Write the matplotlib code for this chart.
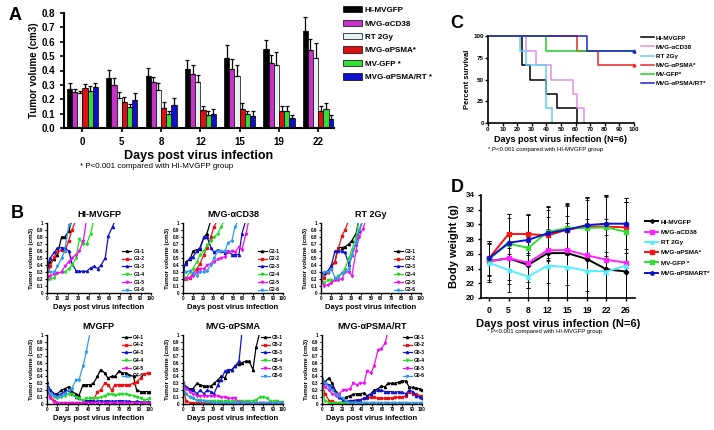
import matplotlib
matplotlib.use("Agg")
import matplotlib.pyplot as plt
import numpy as np

plt.rcParams.update({
    "font.family": ["Liberation Sans", "DejaVu Sans"],
    "font.weight": "bold",
    "axes.labelweight": "bold",
    "axes.titleweight": "bold",
    "axes.spines.top": False,
    "axes.spines.right": False,
})

W, H = 714, 430

# ---------------- panel A data ----------------
a_days = ["0", "5", "8", "12", "15", "19", "22"]
a_labels = ["HI-MVGFP", "MVG-αCD38", "RT 2Gy", "MVG-αPSMA*", "MV-GFP *", "MVG-αPSMA/RT *"]
a_colors = ["black", "#c832c8", "#e6f2f2", "#dd1111", "#33dd33", "#1010cc"]
a_hi = [0.27, 0.35, 0.36, 0.41, 0.49, 0.55, 0.675]
a_cd38 = [0.25, 0.30, 0.32, 0.375, 0.41, 0.45, 0.54]
a_rt = [0.245, 0.21, 0.265, 0.32, 0.365, 0.435, 0.49]
a_psma = [0.28, 0.18, 0.14, 0.125, 0.135, 0.115, 0.115]
a_gfp = [0.26, 0.145, 0.10, 0.09, 0.095, 0.115, 0.135]
a_psmart = [0.285, 0.195, 0.16, 0.10, 0.085, 0.07, 0.06]
a_hi_err = [0.045, 0.055, 0.06, 0.065, 0.09, 0.065, 0.095]
a_cd38_err = [0.02, 0.05, 0.035, 0.06, 0.07, 0.06, 0.08]
a_rt_err = [0.01, 0.04, 0.045, 0.05, 0.075, 0.095, 0.10]
a_psma_err = [0.025, 0.035, 0.04, 0.03, 0.04, 0.04, 0.04]
a_gfp_err = [0.03, 0.02, 0.02, 0.025, 0.025, 0.04, 0.04]
a_psmart_err = [0.03, 0.05, 0.05, 0.035, 0.03, 0.02, 0.03]

# ---------------- panel C data (Kaplan-Meier steps) ----------------
c_labels = ["HI-MVGFP", "MVG-αCD38", "RT 2Gy", "MVG-αPSMA*", "MV-GFP*", "MVG-αPSMA/RT*"]
c_colors = ["black", "#e08ee8", "#66ccee", "#ee2222", "#22cc22", "#2222cc"]
c_hi_t = [0, 23, 29, 40, 47, 61]
c_hi_s = [100, 66.7, 50, 33.3, 16.7, 0]
c_cd38_t = [0, 26, 33, 43, 58, 61, 66]
c_cd38_s = [100, 83.3, 66.7, 50, 33.3, 16.7, 0]
c_rt_t = [0, 22, 26, 40, 44]
c_rt_s = [100, 83.3, 66.7, 16.7, 0]
c_psma_t = [0, 61, 75, 100]
c_psma_s = [100, 83.3, 66.7, 66.7]
c_gfp_t = [0, 40, 100]
c_gfp_s = [100, 83.3, 83.3]
c_psmart_t = [0, 68, 100]
c_psmart_s = [100, 83.3, 83.3]

# ---------------- panel D data ----------------
d_days = ["0", "5", "8", "12", "15", "19", "22", "26"]
d_labels = ["HI-MVGFP", "MVG-αCD38", "RT 2Gy", "MVG-αPSMA*", "MV-GFP *", "MVG-αPSMART*"]
d_colors = ["black", "#ff22ff", "#55eeff", "#ff1111", "#33dd33", "#1111cc"]
d_markers = ["P", "s", "^", "s", "s", "o"]
d_hi = [25.0, 25.4, 24.5, 26.1, 26.1, 25.3, 23.9, 23.6]
d_cd38 = [25.0, 25.4, 24.8, 26.5, 26.5, 25.8, 25.2, 24.8]
d_rt = [24.8, 23.8, 22.9, 24.4, 24.2, 23.7, 23.6, 24.4]
d_psma = [25.4, 28.7, 28.7, 28.5, 29.3, 29.7, 29.7, 29.6]
d_gfp = [25.3, 27.4, 26.8, 29.0, 29.5, 29.5, 29.6, 29.0]
d_psmart = [25.4, 27.5, 27.9, 28.8, 29.3, 29.9, 30.1, 30.1]
d_hi_err = [2.8, 3.0, 3.1, 6.3, 6.6, 8.3, 10.0, 10.0]
d_cd38_err = [2.5, 3.5, 3.5, 4.5, 4.7, 4.9, 5.6, 5.0]
d_rt_err = [2.6, 3.0, 3.0, 5.0, 6.0, 6.0, 5.0, 5.0]
d_psma_err = [2.3, 2.7, 2.6, 3.5, 3.2, 3.6, 4.0, 3.5]
d_gfp_err = [2.2, 3.5, 4.6, 3.5, 3.4, 4.2, 4.4, 4.0]
d_psmart_err = [2.4, 3.9, 3.4, 3.6, 3.5, 3.8, 3.9, 3.5]

# ---------------- panel B data (individual tumours) ----------------
b_days = [0, 3, 7, 10, 14, 17, 21, 24, 28, 31, 35, 38, 42, 45, 49, 52, 56, 59,
          63, 66, 70, 73, 77, 80, 84, 87, 91, 94, 98, 100]
b_colors = ["black", "#ee1111", "#1111cc", "#22dd22", "#ee11ee", "#3399ee"]
b_markers = ["^", "s", "^", "v", "v", "v"]

g1_1 = [0.33, 0.45, 0.48, 0.55, 0.8, 0.8, 0.88, 1.05]
g1_2 = [0.24, 0.38, 0.52, 0.58, 0.62, 0.6, 0.75, 0.9, 1.05]
g1_3 = [0.38, 0.5, 0.58, 0.64, 0.65, 0.64, 0.6, 0.42, 0.32, 0.31, 0.31, 0.31,
        0.36, 0.38, 0.35, 0.4, 0.5, 0.82, 0.95, 1.05]
g1_4 = [0.2, 0.2, 0.22, 0.28, 0.3, 0.3, 0.35, 0.4, 0.5, 0.77, 0.7, 0.7, 0.85, 1.05]
g1_5 = [0.18, 0.25, 0.27, 0.28, 0.3, 0.38, 0.45, 0.5, 0.55, 0.6, 0.75, 1.05]
g1_6 = [0.35, 0.3, 0.3, 0.38, 0.5, 0.6, 0.97]

g2_1 = [0.3, 0.45, 0.48, 0.6, 0.62, 0.63, 0.8, 0.85, 1.05]
g2_2 = [0.2, 0.2, 0.22, 0.28, 0.35, 0.42, 0.55, 0.65, 0.8, 0.95, 1.05]
g2_3 = [0.35, 0.42, 0.5, 0.52, 0.6, 0.65, 0.8, 0.8, 0.65, 0.58, 0.62, 0.6, 0.57,
        0.6, 0.55, 0.55, 0.55, 0.85, 1.05]
g2_4 = [0.28, 0.2, 0.3, 0.35, 0.45, 0.55, 0.6, 0.68, 0.75, 0.8, 0.85, 0.95, 1.05]
g2_5 = [0.2, 0.22, 0.22, 0.25, 0.3, 0.35, 0.35, 0.4, 0.42, 0.45, 0.48, 0.5, 0.52,
        0.58, 0.6, 0.58, 0.66, 0.62, 0.85, 1.05]
g2_6 = [0.3, 0.3, 0.32, 0.28, 0.25, 0.3, 0.3, 0.32, 0.4, 0.5, 0.6, 0.6, 0.6, 0.72,
        0.75, 0.95, 1.05]

g3_1 = [0.28, 0.28, 0.3, 0.38, 0.45, 0.65, 0.65, 0.66, 0.7, 0.75, 0.85, 1.05]
g3_2 = [0.25, 0.22, 0.3, 0.35, 0.45, 0.62, 0.82, 0.9, 1.05]
g3_3 = [0.28, 0.28, 0.32, 0.38, 0.6, 0.6, 0.6, 0.58, 0.4, 0.55, 0.7, 0.88, 1.05]
g3_4 = [0.22, 0.15, 0.18, 0.18, 0.18, 0.25, 0.28, 0.35, 0.5, 0.62, 0.8, 1.05]
g3_5 = [0.2, 0.1, 0.12, 0.15, 0.18, 0.18, 0.2, 0.3, 0.3, 0.25, 0.6, 0.8, 0.92, 1.05]
g3_6 = [0.22, 0.3, 0.3, 0.35, 0.22, 0.22, 0.28, 0.3, 0.35, 0.55, 0.72, 0.9, 1.05]

g4_1 = [0.3, 0.2, 0.15, 0.15, 0.2, 0.22, 0.25, 0.18, 0.15, 0.12, 0.28, 0.28, 0.28,
        0.3, 0.4, 0.5, 0.45, 0.38, 0.4, 0.4, 0.48, 0.45, 0.45, 0.42, 0.4, 0.2, 0.18,
        0.18, 0.18, 0.18]
g4_2 = [0.25, 0.1, 0.05, 0.02, 0.02, 0.02, 0.02, 0.02, 0.02, 0.02, 0.02, 0.03, 0.04,
        0.05, 0.18, 0.2, 0.3, 0.28, 0.2, 0.28, 0.28, 0.28, 0.28, 0.28, 0.3, 0.32, 0.38,
        0.43, 0.45, 0.45]
g4_3 = [0.32, 0.2, 0.15, 0.12, 0.15, 0.18, 0.2, 0.15, 0.1, 0.08, 0.05, 0.05, 0.05,
        0.04, 0.04, 0.05, 0.04, 0.05, 0.04, 0.04, 0.05, 0.05, 0.04, 0.04, 0.03, 0.04,
        0.03, 0.03, 0.03, 0.03]
g4_4 = [0.2, 0.15, 0.1, 0.08, 0.1, 0.12, 0.15, 0.15, 0.1, 0.08, 0.06, 0.08, 0.08,
        0.08, 0.08, 0.1, 0.12, 0.14, 0.14, 0.13, 0.14, 0.15, 0.14, 0.13, 0.12, 0.1,
        0.08, 0.06, 0.07, 0.08]
g4_5 = [0.22, 0.08, 0.03, 0.02, 0.02, 0.02, 0.02, 0.02, 0.02, 0.02, 0.02, 0.02, 0.02,
        0.02, 0.02, 0.02, 0.02, 0.02, 0.02, 0.02, 0.02, 0.02, 0.02, 0.02, 0.02, 0.02,
        0.02, 0.02, 0.02, 0.02]
g4_6 = [0.28, 0.15, 0.12, 0.1, 0.12, 0.15, 0.2, 0.22, 0.35, 0.35, 0.55, 0.75, 1.05]

g5_1 = [0.3, 0.25, 0.22, 0.22, 0.3, 0.28, 0.26, 0.26, 0.26, 0.3, 0.35, 0.4, 0.38,
        0.48, 0.5, 0.55, 0.58, 0.6, 0.62, 0.62, 0.5, 0.82, 1.05]
g5_2 = [0.25, 0.05, 0.02, 0.02, 0.02, 0.02, 0.02, 0.02, 0.02, 0.02, 0.02, 0.02, 0.02,
        0.02, 0.02, 0.02, 0.02, 0.02, 0.02, 0.02, 0.02, 0.02, 0.02, 0.02, 0.02, 0.02,
        0.02, 0.02, 0.02, 0.02]
g5_3 = [0.32, 0.25, 0.2, 0.2, 0.15, 0.2, 0.15, 0.2, 0.18, 0.15, 0.28, 0.35, 0.48,
        0.5, 0.5, 0.55, 0.62, 1.05]
g5_4 = [0.2, 0.15, 0.1, 0.08, 0.06, 0.06, 0.05, 0.05, 0.05, 0.04, 0.04, 0.04, 0.04,
        0.04, 0.04, 0.04, 0.04, 0.04, 0.04, 0.04, 0.05, 0.06, 0.1, 0.1, 0.08, 0.05,
        0.04, 0.04, 0.03, 0.03]
g5_5 = [0.3, 0.22, 0.18, 0.15, 0.12, 0.12, 0.12, 0.12, 0.12, 0.12, 0.12, 0.1, 0.1,
        0.08, 0.08, 0.08, 0.03, 0.02, 0.02, 0.02, 0.02, 0.02, 0.02, 0.02, 0.02, 0.02,
        0.02, 0.02, 0.02, 0.02]
g5_6 = [0.28, 0.15, 0.1, 0.08, 0.05, 0.05, 0.04, 0.03, 0.03, 0.02, 0.02, 0.02, 0.02,
        0.02, 0.02, 0.02, 0.02, 0.02, 0.02, 0.02, 0.02, 0.02, 0.02, 0.02, 0.02, 0.02,
        0.02, 0.02, 0.02, 0.02]

g6_1 = [0.35, 0.32, 0.38, 0.3, 0.18, 0.1, 0.08, 0.1, 0.12, 0.14, 0.15, 0.15, 0.16,
        0.12, 0.15, 0.2, 0.22, 0.26, 0.25, 0.3, 0.3, 0.3, 0.32, 0.34, 0.33, 0.25, 0.24,
        0.23, 0.22, 0.21]
g6_2 = [0.3, 0.15, 0.05, 0.04, 0.02, 0.02, 0.03, 0.03, 0.04, 0.05, 0.05, 0.06, 0.08,
        0.08, 0.1, 0.1, 0.08, 0.08, 0.08, 0.08, 0.09, 0.1, 0.1, 0.1, 0.12, 0.18, 0.15,
        0.15, 0.12, 0.12]
g6_3 = [0.38, 0.3, 0.28, 0.25, 0.15, 0.1, 0.05, 0.04, 0.05, 0.05, 0.06, 0.06, 0.08,
        0.1, 0.15, 0.17, 0.2, 0.2, 0.18, 0.18, 0.18, 0.17, 0.18, 0.17, 0.15, 0.2, 0.18,
        0.12, 0.1, 0.08]
g6_4 = [0.22, 0.05, 0.02, 0.01, 0.02, 0.02, 0.02, 0.02, 0.02, 0.02, 0.02, 0.02, 0.02,
        0.02, 0.02, 0.02, 0.02, 0.02, 0.02, 0.02, 0.02, 0.02, 0.02, 0.02, 0.02]
g6_5 = [0.28, 0.25, 0.2, 0.15, 0.12, 0.15, 0.2, 0.2, 0.22, 0.3, 0.28, 0.3, 0.3, 0.48,
        0.45, 0.55, 0.78, 0.8, 0.88, 1.05]
g6_6 = [0.35, 0.3, 0.25, 0.2, 0.15, 0.12, 0.08, 0.04, 0.02, 0.02, 0.02, 0.02, 0.02,
        0.02, 0.02, 0.02, 0.02, 0.02, 0.02, 0.02, 0.02, 0.02, 0.02, 0.02, 0.02, 0.02,
        0.02, 0.02, 0.02, 0.02]

b_yticks = [0, 0.1, 0.2, 0.3, 0.4, 0.5, 0.6, 0.7, 0.8, 0.9, 1]
b_yticklabels = ["0", "0.1", "0.2", "0.3", "0.4", "0.5", "0.6", "0.7", "0.8", "0.9", "1"]


fig = plt.figure(figsize=(W / 100, H / 100), dpi=100)


def add_ax(l, t, r, b):
    """Axes from pixel edges (y measured from the top)."""
    return fig.add_axes([l / W, 1 - b / H, (r - l) / W, (b - t) / H])


def ftext(x, y, s, **kw):
    fig.text(x / W, 1 - y / H, s, **kw)


# ---------------- A ----------------
ax = add_ax(64, 13, 334, 128)
xa = np.arange(len(a_days))
bw = 0.132
a_series = [a_hi, a_cd38, a_rt, a_psma, a_gfp, a_psmart]
a_errs = [a_hi_err, a_cd38_err, a_rt_err, a_psma_err, a_gfp_err, a_psmart_err]
a_handles = []
for i, (vals, err, col) in enumerate(zip(a_series, a_errs, a_colors)):
    b = ax.bar(xa + (i - 2.5) * bw, vals, bw, color=col, edgecolor="black", lw=0.5,
               yerr=[np.zeros(len(err)), err],
               error_kw=dict(ecolor="black", elinewidth=0.9, capsize=1.4, capthick=0.9))
    a_handles.append(b)
ax.set_xlim(-0.47, 6.4)
ax.set_ylim(0, 0.8)
ax.set_yticks(np.arange(0, 0.81, 0.1))
ax.set_yticklabels([f"{v:.1f}" for v in np.arange(0, 0.81, 0.1)])
ax.set_xticks(xa)
ax.set_xticklabels(a_days)
ax.tick_params(labelsize=7, width=1.2, length=3)
for s in ["left", "bottom"]:
    ax.spines[s].set_linewidth(1.5)
ax.set_ylabel("Tumor volume (cm3)", fontsize=7, labelpad=2)
ax.set_xlabel("Days post virus infection", fontsize=9, labelpad=2)
ftext(9, 16, "A", fontsize=13, va="center")
ftext(80, 167, "* P<0.001 compared with HI-MVGFP group", fontsize=5.8,
      fontweight="normal", va="center")
fig.legend(a_handles, a_labels, loc="upper left", bbox_to_anchor=(339 / W, 1 - 2 / H),
           fontsize=5.8, frameon=False, handlelength=2.4, handleheight=0.85,
           labelspacing=0.68, borderpad=0, handletextpad=0.3)

# ---------------- C ----------------
ax = add_ax(488, 36, 634, 123)
c_t = [c_hi_t, c_cd38_t, c_rt_t, c_psma_t, c_gfp_t, c_psmart_t]
c_s = [c_hi_s, c_cd38_s, c_rt_s, c_psma_s, c_gfp_s, c_psmart_s]
c_handles = []
for t, s, col in zip(c_t, c_s, c_colors):
    ln, = ax.step(t, s, where="post", color=col, lw=1.1, clip_on=False)
    c_handles.append(ln)
for t, s, col in zip(c_t[3:], c_s[3:], c_colors[3:]):
    ax.plot(t[-1], s[-1], marker="^", ms=2, color=col, clip_on=False)
ax.set_xlim(0, 100)
ax.set_ylim(0, 100)
ax.set_xticks(np.arange(0, 101, 10))
ax.set_yticks([0, 25, 50, 75, 100])
ax.tick_params(labelsize=4.5, width=1.0, length=2, pad=1)
for s in ["left", "bottom"]:
    ax.spines[s].set_linewidth(1.2)
ax.set_ylabel("Percent survival", fontsize=5.5, labelpad=2)
ax.set_xlabel("Days post virus infection (N=6)", fontsize=6.5, labelpad=2)
ftext(450, 24, "C", fontsize=13, va="center")
ftext(488, 150, "* P<0.001 compared with HI-MVGFP group", fontsize=4.3,
      fontweight="normal", va="center")
fig.legend(c_handles, c_labels, loc="upper left", bbox_to_anchor=(638 / W, 1 - 32 / H),
           fontsize=4.5, frameon=False, handlelength=2.0, labelspacing=0.6,
           borderpad=0, handletextpad=0.4)

# ---------------- D ----------------
ax = add_ax(481, 195, 635, 298)
xd = np.arange(len(d_days))
d_series = [d_hi, d_cd38, d_rt, d_psma, d_gfp, d_psmart]
d_errs = [d_hi_err, d_cd38_err, d_rt_err, d_psma_err, d_gfp_err, d_psmart_err]
for vals, err in zip(d_series, d_errs):
    ax.errorbar(xd, vals, yerr=err, fmt="none", ecolor="black", elinewidth=0.6,
                capsize=1.5, capthick=0.6, zorder=1)
d_handles = []
for vals, col, mk in zip(d_series, d_colors, d_markers):
    ln, = ax.plot(xd, vals, color=col, marker=mk, ms=3, lw=1.4, zorder=3)
    d_handles.append(ln)
ax.set_xlim(-0.41, 7.46)
ax.set_ylim(20, 34)
ax.set_yticks(np.arange(20, 35, 2))
ax.set_xticks(xd)
ax.set_xticklabels(d_days)
ax.tick_params(axis="y", labelsize=5.8, width=1.0, length=2.5, pad=2)
ax.tick_params(axis="x", labelsize=6.2, width=1.0, length=2.5, pad=3)
for s in ["left", "bottom"]:
    ax.spines[s].set_linewidth(1.2)
ax.set_ylabel("Body weight (g)", fontsize=8, labelpad=5)
ax.set_xlabel("Days post virus infection (N=6)", fontsize=8, labelpad=3)
ftext(451, 188, "D", fontsize=13, va="center")
ftext(487, 331, "* P<0.001 compared with HI-MVGFP group", fontsize=4.3,
      fontweight="normal", va="center")
fig.legend(d_handles, d_labels, loc="upper left", bbox_to_anchor=(642 / W, 1 - 216 / H),
           fontsize=4.6, frameon=False, handlelength=2.0, labelspacing=0.75,
           borderpad=0, handletextpad=0.4, markerscale=0.8)

# ---------------- B ----------------
b_panels = [
    ("HI-MVGFP", "G1", [g1_1, g1_2, g1_3, g1_4, g1_5, g1_6], (47, 223, 151, 293), (0.70, 0.67)),
    ("MVG-αCD38", "G2", [g2_1, g2_2, g2_3, g2_4, g2_5, g2_6], (183, 223, 283, 293), (0.72, 0.67)),
    ("RT 2Gy", "G3", [g3_1, g3_2, g3_3, g3_4, g3_5, g3_6], (321, 223, 421, 293), (0.70, 0.67)),
    ("MVGFP", "G4", [g4_1, g4_2, g4_3, g4_4, g4_5, g4_6], (47, 335, 150, 404), (0.70, 1.04)),
    ("MVG-αPSMA", "G5", [g5_1, g5_2, g5_3, g5_4, g5_5, g5_6], (183, 335, 283, 404), (0.75, 1.04)),
    ("MVG-αPSMA/RT", "G6", [g6_1, g6_2, g6_3, g6_4, g6_5, g6_6], (322, 335, 422, 404), (0.78, 1.04)),
]
for title, grp, series, rect, legpos in b_panels:
    ax = add_ax(*rect)
    for k, (vals, col, mk) in enumerate(zip(series, b_colors, b_markers)):
        ax.plot(b_days[:len(vals)], vals, color=col, marker=mk, ms=1.6, lw=0.9,
                label=f"{grp}-{k + 1}")
    ax.set_xlim(0, 100)
    ax.set_ylim(0, 1)
    ax.set_xticks(np.arange(0, 101, 10))
    ax.set_yticks(b_yticks)
    ax.set_yticklabels(b_yticklabels)
    ax.tick_params(labelsize=3.3, width=0.8, length=1.5, pad=1)
    for s in ["left", "bottom"]:
        ax.spines[s].set_linewidth(1.0)
    ax.set_title(title, fontsize=6.5, pad=4)
    ax.set_ylabel("Tumor volume (cm3)", fontsize=4.5, labelpad=2)
    ax.set_xlabel("Days post virus infection", fontsize=5.5, labelpad=2)
    ax.legend(loc="upper left", bbox_to_anchor=legpos, fontsize=3.6, frameon=False,
              handlelength=1.8, labelspacing=0.55, borderpad=0, handletextpad=0.4,
              markerscale=1.0)
ftext(11, 213, "B", fontsize=13, va="center")

fig.savefig("out.png", dpi=100)
